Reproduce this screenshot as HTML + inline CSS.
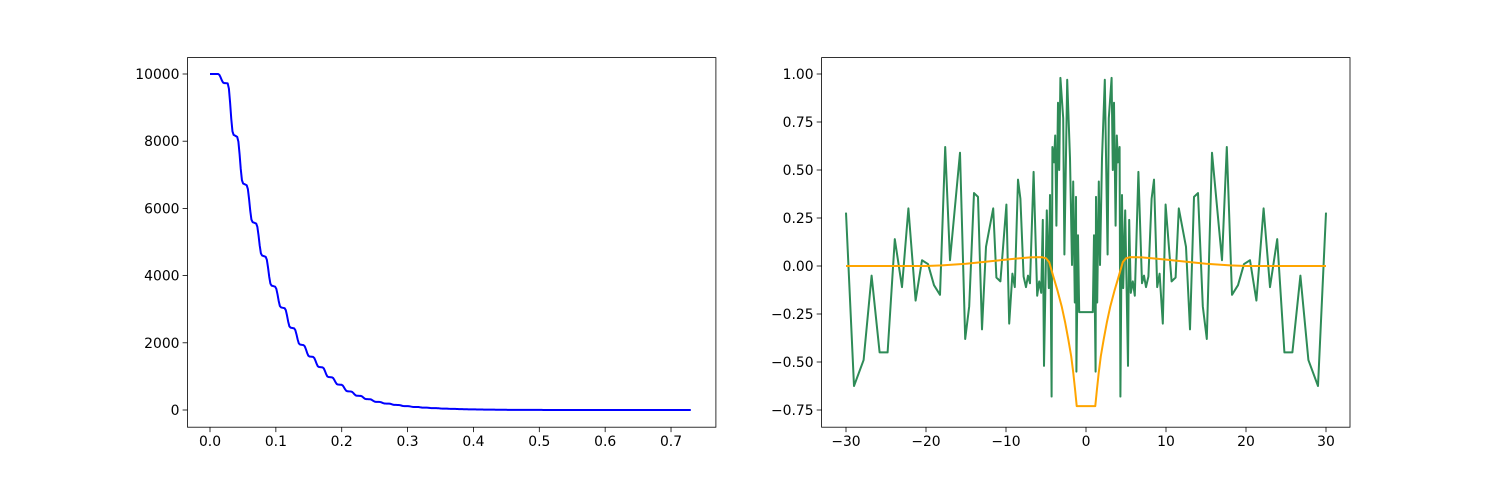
<!DOCTYPE html>
<html><head><meta charset="utf-8"><style>
body{margin:0;background:#fff;}
svg{display:block;font-family:"DejaVu Sans","Liberation Sans",sans-serif;}
</style></head><body>
<svg id="fig" width="1500" height="480" xmlns="http://www.w3.org/2000/svg">
<rect width="1500" height="480" fill="#fff"/>
<g id="left"></g>
<g id="right"></g>
</svg>
<script>
// ---- Left chart data ----
const leftXTicks = [0,0.1,0.2,0.3,0.4,0.5,0.6,0.7];
const leftXTickLabels = ["0.0","0.1","0.2","0.3","0.4","0.5","0.6","0.7"];
const leftYTicks = [0,2000,4000,6000,8000,10000];
const leftYTickLabels = ["0","2000","4000","6000","8000","10000"];
const decayStart = 0.0125;
const decayEnd = 0.73;
const decayStep = 0.0144;
const decayValues = [10000,9720,8130,6690,5550,4560,3670,3030,2430,1930,1580,1270,970,750,550,420,320,240,190,150,115,90,70,55,42,32,24,18,13,10,7,5,4,3,2,1,1,0];

// ---- Right chart data ----
const rightXTicks = [-30,-20,-10,0,10,20,30];
const rightXTickLabels = ["−30","−20","−10","0","10","20","30"];
const rightYTicks = [-0.75,-0.5,-0.25,0,0.25,0.5,0.75,1.0];
const rightYTickLabels = ["−0.75","−0.50","−0.25","0.00","0.25","0.50","0.75","1.00"];
const greenX = [-30,-29,-27.8,-26.8,-25.8,-24.8,-23.9,-23.0,-22.2,-21.3,-20.5,-19.75,-19,-18.25,-17.6,-17,-15.75,-15.1,-14.6,-14,-13.5,-13,-12.5,-11.6,-11.2,-10.7,-9.95,-9.6,-9.2,-8.9,-8.5,-8.2,-7.8,-7.5,-7.25,-7,-6.55,-6.1,-5.85,-5.6,-5.4,-5.25,-4.9,-4.65,-4.5,-4.3,-4.2,-4,-3.85,-3.7,-3.5,-3.35,-3.2,-2.85,-2.7,-2.35,-2,-1.75,-1.6,-1.4,-1.25,-1.2,-1,-0.85];
const greenY = [0.278,-0.625,-0.49,-0.05,-0.45,-0.45,0.14,-0.11,0.30,-0.18,0.03,0.01,-0.10,-0.15,0.62,0.03,0.59,-0.38,-0.21,0.38,0.36,-0.33,0.10,0.30,-0.06,-0.08,0.32,-0.30,-0.04,-0.11,0.45,0.35,-0.055,-0.11,-0.05,-0.09,0.49,-0.155,-0.08,-0.14,0.24,-0.52,0.29,-0.115,0.37,-0.68,0.62,0.54,0.68,0.21,0.85,0.50,0.98,0.77,0.06,0.97,0.56,0.005,0.44,-0.19,0.36,-0.55,0.16,-0.24];
const orangeX = [-30,-25,-20,-18,-15,-13,-10,-8.4,-7,-5.5,-5,-4.6,-4.08,-3.55,-3.04,-2.6,-2.2,-1.85,-1.58,-1.35,-1.16];
const orangeY = [0,0,0,0.003,0.012,0.02,0.033,0.04,0.045,0.046,0.04,0.02,-0.055,-0.13,-0.21,-0.295,-0.385,-0.47,-0.56,-0.65,-0.73];

const NS="http://www.w3.org/2000/svg";
function mk(parent,tag,attrs){const e=document.createElementNS(NS,tag);for(const k in attrs)e.setAttribute(k,attrs[k]);parent.appendChild(e);return e;}

function axes(g,L,T,R,B,xs,ys,xt,xl,yt,yl,prefix){
  xt.forEach((v,i)=>{const x=xs(v);
    const t=mk(g,'line',{x1:x,x2:x,y1:B,y2:B+4.9,stroke:'#000','stroke-width':0.8});
    
    
    const tx=mk(g,'text',{x:x,y:B+19,'font-size':13.9,'text-anchor':'middle',fill:'#000'});
    tx.textContent=xl[i];
    
    
  });
  yt.forEach((v,i)=>{const y=ys(v);
    const t=mk(g,'line',{x1:L-4.9,x2:L,y1:y,y2:y,stroke:'#000','stroke-width':0.8});
    
    
    const tx=mk(g,'text',{x:L-8,y:y+5,'font-size':13.9,'text-anchor':'end',fill:'#000'});
    tx.textContent=yl[i];
    
    
  });
}
function frame(g,L,T,R,B,prefix){
  const r=mk(g,'rect',{x:L,y:T,width:R-L,height:B-T,fill:'none',stroke:'#000','stroke-width':0.8});
  
  
}

// Left
(function(){
  const g=document.getElementById('left');
  const L=187.5,R=715.9,T=57.6,B=427.2;
  const xs=v=>210+v*658.6, ys=v=>410-v*0.0336;
  const pts=[[xs(0),ys(decayValues[0])]];
  let x=decayStart;
  pts.push([xs(x),ys(decayValues[0])]);
  for(let i=1;i<decayValues.length;i++){
    const a=decayValues[i-1],b=decayValues[i];
    const n=8;
    for(let k=1;k<=n;k++){const f=k/n;const e=(1-Math.cos(Math.PI*Math.min(1,f/0.6)))/2;
      const sl=f>0.6?(f-0.6)/0.4*0.04:0;
      pts.push([xs(x+f*decayStep),ys(a+(b-a)*(e+sl)/1.04)]);}
    x+=decayStep;
  }
  pts.push([xs(decayEnd),ys(decayValues[decayValues.length-1])]);
  const p=mk(g,'polyline',{points:pts.map(p=>p.join(',')).join(' '),fill:'none',stroke:'#0000ff','stroke-width':2,'stroke-linejoin':'round'});
  
  
  frame(g,L,T,R,B,'left-');
  axes(g,L,T,R,B,xs,ys,leftXTicks,leftXTickLabels,leftYTicks,leftYTickLabels,'left-');
})();

// Right
(function(){
  const g=document.getElementById('right');
  const L=821.6,R=1350,T=57.6,B=427.2;
  const xs=v=>846+(v+30)*8, ys=v=>74+(1-v)*192;
  const gx=greenX.concat(greenX.slice().reverse().map(v=>-v));
  const gy=greenY.concat(greenY.slice().reverse());
  const ox=orangeX.concat(orangeX.slice().reverse().map(v=>-v));
  const oy=orangeY.concat(orangeY.slice().reverse());
  const o=mk(g,'polyline',{points:ox.map((v,i)=>xs(v)+','+ys(oy[i])).join(' '),fill:'none',stroke:'#ffa500','stroke-width':2,'stroke-linejoin':'round'});
  
  
  const gl=mk(g,'polyline',{points:gx.map((v,i)=>xs(v)+','+ys(gy[i])).join(' '),fill:'none',stroke:'#2e8b57','stroke-width':2,'stroke-linejoin':'round'});
  
  
  g.appendChild(o);
  frame(g,L,T,R,B,'right-');
  axes(g,L,T,R,B,xs,ys,rightXTicks,rightXTickLabels,rightYTicks,rightYTickLabels,'right-');
})();
</script>
</body></html>
